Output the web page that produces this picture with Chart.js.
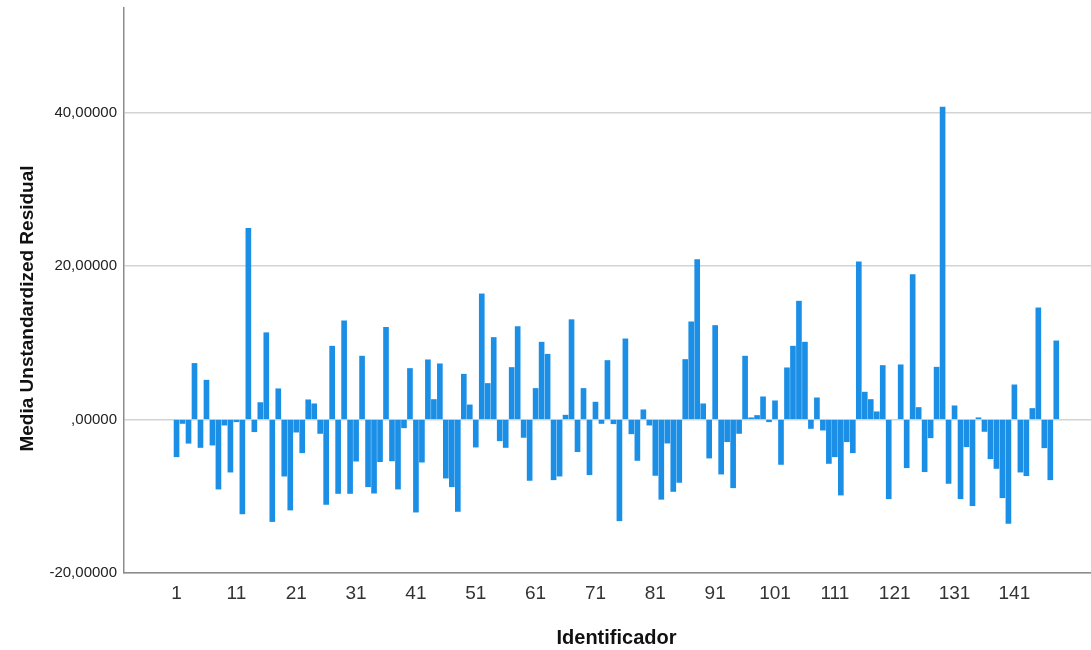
<!DOCTYPE html>
<html>
<head>
<meta charset="utf-8">
<script src="https://cdn.jsdelivr.net/npm/chart.js@4/dist/chart.umd.min.js"></script>
<style>
  html, body { margin: 0; padding: 0; background: #ffffff; }
  canvas { display: block; }
</style>
</head>
<body>
<canvas id="chart" width="1091" height="650"></canvas>
<script>
// Mean unstandardized residual per case (case 121 has no value)
const residual = [
  -4.86, -0.52, -3.10, 7.30, -3.65, 5.12, -3.34, -9.07, -0.74, -6.86,
  -0.30, -12.30, 24.90, -1.60, 2.20, 11.30, -13.30, 4.00, -7.38, -11.80,
  -1.65, -4.34, 2.56, 2.04, -1.82, -11.07, 9.55, -9.64, 12.85, -9.64,
  -5.43, 8.25, -8.77, -9.60, -5.50, 12.00, -5.40, -9.07, -1.09, 6.64,
  -12.07, -5.56, 7.77, 2.60, 7.25, -7.64, -8.77, -11.98, 5.90, 1.90,
  -3.60, 16.36, 4.69, 10.68, -2.78, -3.65, 6.77, 12.10, -2.34, -7.94,
  4.04, 10.07, 8.50, -7.86, -7.38, 0.56, 13.00, -4.20, 4.04, -7.20,
  2.26, -0.52, 7.68, -0.56, -13.20, 10.50, -1.87, -5.34, 1.26, -0.74,
  -7.29, -10.40, -3.08, -9.38, -8.20, 7.81, 12.72, 20.83, 2.04, -5.03,
  12.24, -7.12, -2.90, -8.90, -1.82, 8.25, 0.22, 0.52, 2.95, -0.30,
  2.43, -5.86, 6.73, 9.55, 15.41, 10.07, -1.17, 2.82, -1.39, -5.73,
  -4.86, -9.85, -2.90, -4.34, 20.53, 3.56, 2.60, 1.00, 7.03, -10.33,
  null, 7.12, -6.29, 18.88, 1.56, -6.81, -2.39, 6.81, 40.70, -8.33,
  1.78, -10.33, -3.56, -11.24, 0.22, -1.56, -5.12, -6.38, -10.20, -13.54,
  4.51, -6.86, -7.33, 1.43, 14.54, -3.69, -7.86, 10.24
];

// Case identifiers run 1..N
const identificador = residual.map((_, i) => i + 1);

// Axis tick values
const xTickValues = [1, 11, 21, 31, 41, 51, 61, 71, 81, 91, 101, 111, 121, 131, 141];
const yTickValues = [-20, 0, 20, 40];

const xTitle = 'Identificador';
const yTitle = 'Media Unstandardized Residual';

const FONT = '"Liberation Sans", Arial, Helvetica, sans-serif';

// SPSS-style number format with comma decimal separator
function formatResidual(v) {
  if (v === 0) return ',00000';
  return v.toFixed(5).replace('.', ',');
}

// Axis titles placed in the margins
const axisTitles = {
  id: 'axisTitles',
  afterDraw(chart) {
    const ctx = chart.ctx;
    ctx.save();
    ctx.fillStyle = '#111111';
    ctx.textAlign = 'center';
    ctx.textBaseline = 'alphabetic';
    ctx.font = 'bold 20px ' + FONT;
    ctx.fillText(xTitle, 616.5, 644);
    ctx.translate(33, 308.5);
    ctx.rotate(-Math.PI / 2);
    ctx.font = 'bold 19px ' + FONT;
    ctx.fillText(yTitle, 0, 0);
    ctx.restore();
  }
};

new Chart(document.getElementById('chart'), {
  type: 'bar',
  data: {
    datasets: [{
      data: identificador.map((id, i) => ({ x: id, y: residual[i] })),
      backgroundColor: '#1b8fe6',
      borderWidth: 0,
      barThickness: 5
    }]
  },
  options: {
    responsive: false,
    devicePixelRatio: 1,
    animation: false,
    layout: { padding: { top: 8, left: 0, right: 0, bottom: 0 } },
    plugins: {
      legend: { display: false },
      tooltip: { enabled: false }
    },
    scales: {
      x: {
        type: 'linear',
        offset: false,
        min: -7.78,
        max: 153.8,
        afterBuildTicks: (scale) => { scale.ticks = xTickValues.map(v => ({ value: v })); },
        afterFit: (scale) => { scale.height = 77; scale.paddingLeft = 0; scale.paddingRight = 0; },
        ticks: {
          autoSkip: false,
          maxRotation: 0,
          padding: 9,
          color: '#333333',
          font: { family: FONT, size: 19 },
          callback: (v) => String(v)
        },
        grid: { display: false, drawTicks: false },
        border: { display: true, color: '#8c8c8c', width: 1.5 }
      },
      y: {
        type: 'linear',
        min: -20,
        max: 53.6,
        afterBuildTicks: (scale) => { scale.ticks = yTickValues.map(v => ({ value: v })); },
        afterFit: (scale) => { scale.width = 124; scale.paddingTop = 0; scale.paddingBottom = 0; },
        ticks: {
          padding: 7,
          color: '#222222',
          font: { family: FONT, size: 15 },
          callback: formatResidual
        },
        grid: { color: '#d3d3d3', lineWidth: 1.5, drawTicks: false },
        border: { display: true, color: '#8c8c8c', width: 1.5 }
      }
    }
  },
  plugins: [axisTitles]
});
</script>
</body>
</html>
